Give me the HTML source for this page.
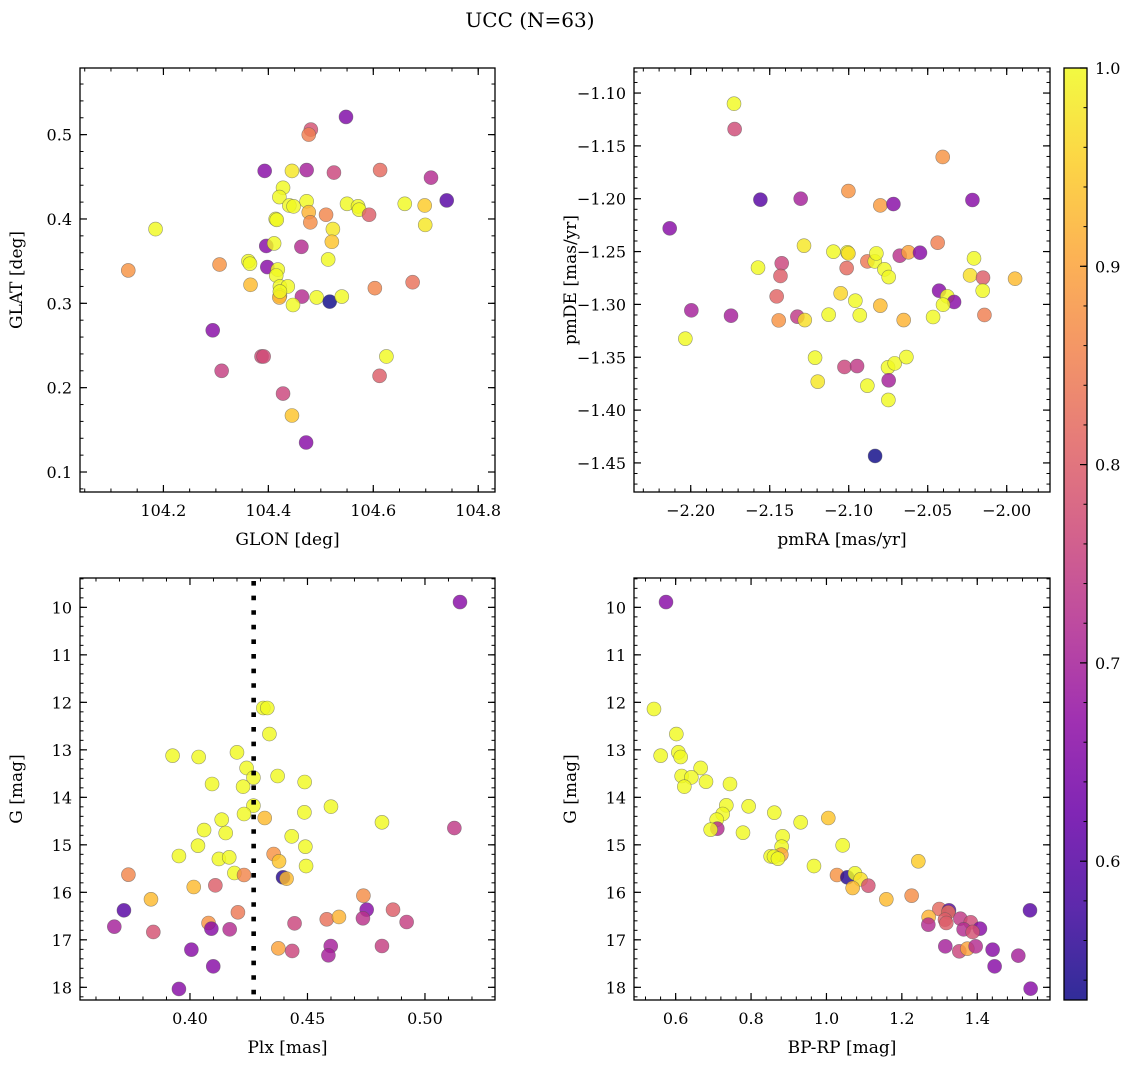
<!DOCTYPE html>
<html><head><meta charset="utf-8"><style>
html,body{margin:0;padding:0;background:#fff;}
svg{display:block;font-family:"DejaVu Serif","Liberation Serif",serif;}
</style></head><body>
<svg id="fig" width="1136" height="1068" viewBox="0 0 1136 1068" xmlns="http://www.w3.org/2000/svg">
<defs><linearGradient id="cbg" x1="0" y1="1" x2="0" y2="0"></linearGradient></defs>
<text x="530" y="27" font-size="20" text-anchor="middle">UCC (N=63)</text>
</svg>
<script>
// Panel 1: GLON vs GLAT
const p1Glon=[104.548,104.481,104.477,104.393,104.445,104.473,104.525,104.613,104.710,104.740,104.428,104.421,104.440,104.448,104.473,104.477,104.480,104.510,104.550,104.571,104.573,104.592,104.660,104.698,104.699,104.185,104.414,104.416,104.523,104.521,104.396,104.411,104.463,104.514,104.133,104.307,104.362,104.365,104.398,104.418,104.415,104.366,104.422,104.437,104.422,104.421,104.464,104.492,104.517,104.540,104.447,104.603,104.675,104.294,104.387,104.391,104.625,104.311,104.612,104.428,104.445,104.472,104.422];
const p1Glat=[0.521,0.506,0.500,0.457,0.457,0.458,0.455,0.458,0.449,0.422,0.437,0.426,0.416,0.415,0.421,0.408,0.396,0.405,0.418,0.415,0.411,0.405,0.418,0.416,0.393,0.388,0.400,0.399,0.388,0.373,0.368,0.371,0.367,0.352,0.339,0.346,0.350,0.347,0.343,0.340,0.333,0.322,0.320,0.320,0.309,0.307,0.308,0.307,0.302,0.308,0.298,0.318,0.325,0.268,0.237,0.237,0.237,0.220,0.214,0.193,0.167,0.135,0.314];
const p1Prob=[0.65,0.78,0.85,0.66,0.98,0.70,0.76,0.82,0.72,0.60,1,1,1,1,1,0.92,0.87,0.86,1,1,1,0.80,1,0.95,0.98,1,1,1,0.98,0.94,0.66,1,0.72,1,0.88,0.88,1,1,0.66,1,1,0.93,1,1,0.95,0.92,0.72,1,0.53,1,1,0.86,0.83,0.66,0.77,0.77,1,0.75,0.80,0.76,0.94,0.66,1];
// Panel 2: pmRA vs pmDE
const p2PmRA=[-2.1726,-2.1722,-2.0405,-2.1559,-2.1304,-2.1002,-2.0800,-2.0717,-2.0217,-2.2133,-2.1283,-2.1097,-2.1008,-2.1002,-2.0882,-2.0835,-2.0825,-2.0774,-2.0747,-2.0677,-2.0622,-2.0549,-2.0437,-2.0207,-2.0232,-2.0150,-1.9947,-2.1574,-2.1424,-2.1432,-2.1456,-2.1013,-2.1051,-2.0958,-2.0428,-2.0376,-2.0333,-2.0403,-2.0152,-2.1996,-2.1745,-2.1443,-2.1325,-2.1278,-2.1127,-2.0930,-2.0800,-2.0652,-2.0466,-2.0141,-2.2034,-2.1213,-2.1196,-2.1027,-2.0947,-2.0751,-2.0709,-2.0635,-2.0882,-2.0747,-2.0749,-2.0833];
const p2PmDE=[-1.1101,-1.1341,-1.1605,-1.2009,-1.2000,-1.1927,-1.2063,-1.2050,-1.2012,-1.2280,-1.2444,-1.2501,-1.2507,-1.2517,-1.2593,-1.2593,-1.2517,-1.2668,-1.2741,-1.2539,-1.2507,-1.2511,-1.2416,-1.2564,-1.2725,-1.2747,-1.2757,-1.2652,-1.2611,-1.2731,-1.2924,-1.2656,-1.2895,-1.2965,-1.2870,-1.2924,-1.2977,-1.3003,-1.2870,-1.3056,-1.3107,-1.3151,-1.3116,-1.3148,-1.3097,-1.3103,-1.3012,-1.3148,-1.3119,-1.3100,-1.3324,-1.3504,-1.3731,-1.3592,-1.3583,-1.3595,-1.3558,-1.3498,-1.3769,-1.3718,-1.3904,-1.4434];
const p2Prob=[1,0.77,0.88,0.60,0.70,0.88,0.89,0.66,0.66,0.66,0.98,1,1,0.97,0.84,1,1,1,1,0.73,0.90,0.66,0.85,1,0.97,0.80,0.93,1,0.76,0.80,0.81,0.82,0.96,1,0.66,1,0.66,1,1,0.70,0.70,0.88,0.74,0.97,1,1,0.93,0.92,1,0.85,1,1,0.98,0.76,0.74,1,1,1,1,0.70,1,0.53];
// Panel 3: Plx vs G
const p3Plx=[0.5149,0.4312,0.4329,0.4338,0.3926,0.4037,0.4200,0.4241,0.4270,0.4373,0.4488,0.4094,0.4226,0.4270,0.4230,0.4318,0.4487,0.4600,0.4817,0.5125,0.4135,0.4060,0.4152,0.4433,0.4034,0.4491,0.3953,0.4123,0.4167,0.4356,0.4379,0.4494,0.4189,0.4230,0.4396,0.4411,0.3738,0.4108,0.4016,0.3834,0.4738,0.3719,0.4752,0.4864,0.4204,0.3678,0.3844,0.4079,0.4091,0.4169,0.4445,0.4582,0.4634,0.4736,0.4922,0.4006,0.4376,0.4435,0.4599,0.4589,0.4817,0.4099,0.3953];
const p3G=[9.888,12.119,12.119,12.667,13.123,13.151,13.053,13.382,13.586,13.551,13.677,13.719,13.775,14.175,14.351,14.435,14.316,14.196,14.526,14.646,14.470,14.688,14.751,14.821,15.018,15.039,15.235,15.298,15.263,15.193,15.347,15.446,15.593,15.635,15.684,15.712,15.628,15.853,15.888,16.147,16.070,16.379,16.365,16.365,16.421,16.723,16.835,16.646,16.765,16.779,16.653,16.568,16.519,16.547,16.625,17.207,17.179,17.235,17.130,17.326,17.130,17.558,18.035];
const p3Prob=[0.66,1,1,1,1,1,1,1,1,1,1,1,1,1,1,0.93,1,1,1,0.74,1,1,1,1,1,1,1,1,1,0.88,0.94,1,1,0.86,0.55,0.93,0.86,0.80,0.93,0.93,0.87,0.60,0.66,0.80,0.84,0.70,0.78,0.88,0.66,0.72,0.76,0.83,0.92,0.73,0.75,0.66,0.90,0.76,0.70,0.70,0.75,0.66,0.66];
const plxLine=0.4271;
// Panel 4: BP-RP vs G
const p4BpRp=[0.5744,0.5425,0.6018,0.5602,0.6071,0.6133,0.6663,0.6159,0.6416,0.6230,0.6805,0.7441,0.7344,0.7936,0.8617,0.7247,0.7088,0.9316,1.0049,0.7105,0.6928,0.7786,0.8838,1.0430,0.8812,0.8520,0.8803,0.8608,0.8714,0.9669,1.2437,1.0279,1.0553,1.0757,1.0907,1.0695,1.1111,1.1588,1.2260,1.2994,1.3250,1.3232,1.2711,1.2702,1.3144,1.3179,1.3551,1.3827,1.3639,1.4072,1.3878,1.5399,1.3153,1.3524,1.3737,1.3958,1.4408,1.5089,1.4461,1.5416];
const p4G=[9.888,12.140,12.667,13.123,13.053,13.151,13.382,13.551,13.579,13.775,13.670,13.719,14.168,14.189,14.323,14.351,14.470,14.526,14.435,14.660,14.681,14.744,14.821,15.011,15.039,15.242,15.207,15.249,15.291,15.446,15.347,15.635,15.684,15.600,15.726,15.909,15.860,16.147,16.070,16.351,16.379,16.421,16.519,16.681,16.575,16.646,16.554,16.632,16.779,16.765,16.835,16.379,17.137,17.242,17.186,17.137,17.207,17.333,17.558,18.028];
const p4Prob=[0.66,1,1,1,1,1,1,1,1,1,1,1,1,1,1,1,1,1,0.94,0.72,1,1,1,1,1,1,0.90,1,1,1,0.95,0.88,0.55,1,0.97,0.93,0.78,0.93,0.87,0.82,0.60,0.83,0.92,0.72,0.80,0.80,0.74,0.77,0.72,0.66,0.78,0.60,0.70,0.76,0.90,0.72,0.66,0.70,0.66,0.66];
// tick labels
const p1XTicks=[104.2,104.4,104.6,104.8];
const p1YTicks=[0.1,0.2,0.3,0.4,0.5];
const p2XTicks=[-2.20,-2.15,-2.10,-2.05,-2.00];
const p2YTicks=[-1.10,-1.15,-1.20,-1.25,-1.30,-1.35,-1.40,-1.45];
const p3XTicks=[0.40,0.45,0.50];
const gTicks=[10,11,12,13,14,15,16,17,18];
const p4XTicks=[0.6,0.8,1.0,1.2,1.4];
const cbTicks=[0.6,0.7,0.8,0.9,1.0];
const vmin=0.53, vmax=1.0;

const NS="http://www.w3.org/2000/svg";
const svg=document.getElementById('fig');
function mk(tag,attrs,parent){const e=document.createElementNS(NS,tag);for(const k in attrs)e.setAttribute(k,attrs[k]);(parent||svg).appendChild(e);return e;}
const stops=[[13,8,135],[65,4,157],[106,0,168],[143,13,164],[177,42,144],[204,71,120],[225,100,98],[242,132,75],[252,166,54],[252,206,37],[240,249,33]];
function plasma(t){t=Math.max(0,Math.min(1,t));const f=t*10,i=Math.min(9,Math.floor(f)),r=f-i;const a=stops[i],b=stops[i+1];return 'rgb('+a.map((v,k)=>Math.round(v+(b[k]-v)*r)).join(',')+')';}
function fmt(v,d){return (v<0?'\u2212':'')+Math.abs(v).toFixed(d);}

function panel(name,box,dom,xt,xd,xmin,yt,yd,ymin,xs,ys,ps,xlabel,ylabel){
  const [L,T,R,B]=box,[x0,x1,y0,y1]=dom;
  const X=v=>L+(v-x0)/(x1-x0)*(R-L), Y=v=>B-(v-y0)/(y1-y0)*(B-T);
  const g=mk('g',{});
  
  
  const lo=Math.min(x0,x1),hi=Math.max(x0,x1);
  for(let v=Math.ceil(lo/xmin-1e-6)*xmin;v<=hi+1e-9;v+=xmin){const px=X(v);mk('line',{x1:px,x2:px,y1:B,y2:B-3.5,stroke:'#000','stroke-width':1},g);mk('line',{x1:px,x2:px,y1:T,y2:T+3.5,stroke:'#000','stroke-width':1},g);}
  const ylo=Math.min(y0,y1),yhi=Math.max(y0,y1);
  for(let v=Math.ceil(ylo/ymin-1e-6)*ymin;v<=yhi+1e-9;v+=ymin){const py=Y(v);mk('line',{x1:L,x2:L+3.5,y1:py,y2:py,stroke:'#000','stroke-width':1},g);mk('line',{x1:R,x2:R-3.5,y1:py,y2:py,stroke:'#000','stroke-width':1},g);}
  xt.forEach(v=>{const px=X(v);mk('line',{x1:px,x2:px,y1:B,y2:B-7,stroke:'#000','stroke-width':1.2},g);mk('line',{x1:px,x2:px,y1:T,y2:T+7,stroke:'#000','stroke-width':1.2},g);
    const t=mk('text',{x:px,y:B+24,'font-size':16,'text-anchor':'middle'},g);t.textContent=fmt(v,xd);
    
    });
  yt.forEach(v=>{const py=Y(v);mk('line',{x1:L,x2:L+7,y1:py,y2:py,stroke:'#000','stroke-width':1.2},g);mk('line',{x1:R,x2:R-7,y1:py,y2:py,stroke:'#000','stroke-width':1.2},g);
    const t=mk('text',{x:L-8,y:py+6,'font-size':16,'text-anchor':'end'},g);t.textContent=fmt(v,yd);
    
    });
  const pts=mk('g',{},g);
  xs.forEach((v,i)=>{if(ys[i]===undefined)return;const c=mk('circle',{cx:X(v),cy:Y(ys[i]),r:7,fill:plasma((ps[i]-vmin)/(vmax-vmin)),'fill-opacity':0.82,stroke:'#555','stroke-opacity':0.6,'stroke-width':0.6},pts);
    
    });
  mk('rect',{x:L,y:T,width:R-L,height:B-T,fill:'none',stroke:'#000','stroke-width':1.3},g);
  const xl=mk('text',{x:(L+R)/2,y:B+53,'font-size':17,'text-anchor':'middle'},g);xl.textContent=xlabel;
  
  
  const yl=mk('text',{x:0,y:0,'font-size':17,'text-anchor':'middle',transform:'translate('+(L-58)+','+((T+B)/2)+') rotate(-90)'},g);yl.textContent=ylabel;
  
  
  return {X,Y,g};
}
panel('glon-glat-panel',[80,68,495,492],[104.041,104.832,0.0763,0.579],p1XTicks,1,0.05,p1YTicks,1,0.02,p1Glon,p1Glat,p1Prob,'GLON [deg]','GLAT [deg]');
panel('pm-panel',[634,68,1050,492],[-2.2359,-1.9726,-1.4775,-1.0763],p2XTicks,2,0.01,p2YTicks,2,0.01,p2PmRA,p2PmDE,p2Prob,'pmRA [mas/yr]','pmDE [mas/yr]');
const P3=panel('plx-g-panel',[80,578,495,1000],[0.3532,0.5298,18.267,9.382],p3XTicks,2,0.01,gTicks,0,0.2,p3Plx,p3G,p3Prob,'Plx [mas]','G [mag]');
const vl=mk('line',{x1:P3.X(plxLine),x2:P3.X(plxLine),y1:581,y2:1000,stroke:'#000','stroke-width':4.6,'stroke-dasharray':'4.6 10'},P3.g);


panel('cmd-panel',[634,578,1050,1000],[0.4895,1.593,18.267,9.382],p4XTicks,1,0.04,gTicks,0,0.2,p4BpRp,p4G,p4Prob,'BP-RP [mag]','G [mag]');

// colorbar
const grad=document.getElementById('cbg');
for(let i=0;i<=10;i++){mk('stop',{offset:(i/10),'stop-color':plasma(i/10)},grad);}
const cb=mk('g',{});


const CT=68,CB=1000,CL=1064,CR=1087;
const CY=v=>CB-(v-vmin)/(vmax-vmin)*(CB-CT);
mk('rect',{x:CL,y:CT,width:CR-CL,height:CB-CT,fill:'url(#cbg)','fill-opacity':0.85},cb);
for(let v=0.54;v<=1.0001;v+=0.02){const py=CY(v);mk('line',{x1:CR,x2:CR-3.5,y1:py,y2:py,stroke:'#000','stroke-width':1},cb);}
cbTicks.forEach(v=>{const py=CY(v);mk('line',{x1:CR,x2:CR-7,y1:py,y2:py,stroke:'#000','stroke-width':1.2},cb);
  const t=mk('text',{x:CR+8,y:py+6,'font-size':16},cb);t.textContent=v.toFixed(1);
  
  });
mk('rect',{x:CL,y:CT,width:CR-CL,height:CB-CT,fill:'none',stroke:'#000','stroke-width':1.3},cb);
</script>
</body></html>
